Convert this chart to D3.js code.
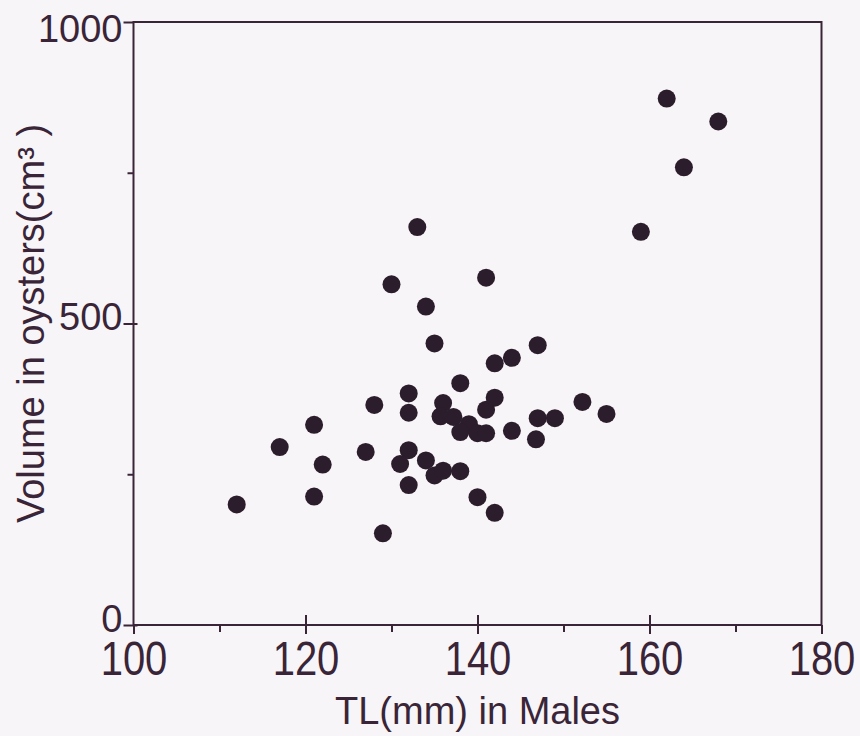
<!DOCTYPE html>
<html>
<head>
<meta charset="utf-8">
<script src="https://cdn.jsdelivr.net/npm/d3@7"></script>
<style>
    body { margin: 0; background: #f7f5f7; }
    svg { display: block; }
</style>
</head>
<body>
<div id="chart"></div>
<script>
// TL (mm) of each male
const tlValues = [
    112, 117, 121, 122, 121, 127, 128, 129, 130, 132,
    132, 132, 131, 134, 135, 136, 138, 132, 133, 134,
    135, 136, 135.7, 137.2, 138, 139, 138, 140, 141, 141,
    142, 141, 142, 144, 147, 144, 147, 149, 146.8, 152.2,
    155, 140, 142, 159, 162, 164, 168
];
// volume in oysters (cm3), same order
const volumeValues = [
    200, 295, 332, 266, 213, 287, 365, 152, 565, 384,
    352, 290, 267, 273, 248, 256, 255, 232, 660, 528,
    467, 368, 346, 345, 401, 333, 320, 318, 318, 357,
    377, 576, 434, 443, 464, 322, 343, 343, 308, 370,
    350, 212, 186, 652, 873, 759, 835
];
const xMajorTicks = [100, 120, 140, 160, 180];
const xMinorTicks = [110, 130, 150, 170];
const yMajorTicks = [0, 500, 1000];
const yMinorTicks = [250, 750];
const xTitle = "TL(mm) in Males";
const yTitle = "Volume in oysters(cm\u00B3 )";

const width = 860;
const height = 736;
const ink = "#3a2538";
const dotColor = "#2c1d2c";

const x = d3.scaleLinear().domain([100, 180]).range([133.5, 821.5]);
const y = d3.scaleLinear().domain([0, 1000]).range([625, 22]);

const svg = d3.select("#chart")
    .append("svg")
    .attr("width", width)
    .attr("height", height)
    .style("font-family", "'Liberation Sans', Arial, sans-serif");

// frame
svg.append("rect")
    .attr("x", x(100))
    .attr("y", y(1000))
    .attr("width", x(180) - x(100))
    .attr("height", y(0) - y(1000))
    .attr("fill", "none")
    .attr("stroke", ink)
    .attr("stroke-width", 2);

function styleAxis(g) {
    g.select(".domain").remove();
    g.selectAll(".tick line").attr("stroke", ink).attr("stroke-width", 2);
    g.selectAll(".tick text").attr("fill", ink);
}

// x axis
const xAxis = svg.append("g")
    .attr("transform", `translate(0,${y(0)})`)
    .call(d3.axisBottom(x).tickValues(xMajorTicks).tickSize(9).tickFormat(d3.format("d")))
    .call(styleAxis);
xAxis.selectAll(".tick text")
    .attr("y", 0)
    .attr("dy", 0)
    .attr("font-size", 40)
    .attr("transform", "translate(0,50) scale(1,1.18)");

svg.append("g")
    .attr("transform", `translate(0,${y(0)})`)
    .call(d3.axisBottom(x).tickValues([120, 140, 160]).tickSize(-10).tickFormat(""))
    .call(styleAxis);
svg.append("g")
    .attr("transform", `translate(0,${y(0)})`)
    .call(d3.axisBottom(x).tickValues(xMinorTicks).tickSize(7).tickFormat(""))
    .call(styleAxis);

// y axis - labels in the scan sit a little off their ticks
const labelShift = { 0: -6, 500: -6, 1000: 7 };
svg.append("g")
    .attr("transform", `translate(${x(100)},0)`)
    .call(d3.axisLeft(y).tickValues(yMajorTicks).tickSize(10).tickPadding(1).tickFormat(d3.format("d")))
    .call(styleAxis)
    .selectAll(".tick text")
    .attr("font-size", 38)
    .attr("y", d => labelShift[d]);

svg.append("g")
    .attr("transform", `translate(${x(100)},0)`)
    .call(d3.axisLeft(y).tickValues([0, 500]).tickSize(-4).tickFormat(""))
    .call(styleAxis);
svg.append("g")
    .attr("transform", `translate(${x(100)},0)`)
    .call(d3.axisLeft(y).tickValues(yMinorTicks).tickSize(6).tickFormat(""))
    .call(styleAxis);

// points
svg.append("g")
    .selectAll("circle")
    .data(tlValues.map((d, i) => ({ tl: d, vol: volumeValues[i] })))
    .join("circle")
    .attr("cx", d => x(d.tl))
    .attr("cy", d => y(d.vol))
    .attr("r", 9)
    .attr("fill", dotColor);

// titles
svg.append("text")
    .attr("x", (x(100) + x(180)) / 2)
    .attr("y", 724)
    .attr("text-anchor", "middle")
    .attr("font-size", 38)
    .attr("fill", ink)
    .text(xTitle);

svg.append("text")
    .attr("transform", `translate(44,${(y(0) + y(1000)) / 2}) rotate(-90)`)
    .attr("text-anchor", "middle")
    .attr("font-size", 38)
    .attr("fill", ink)
    .text(yTitle);
</script>
</body>
</html>
